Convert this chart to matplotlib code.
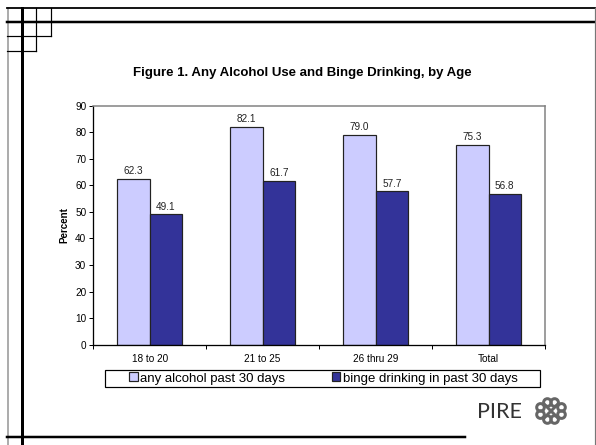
import matplotlib
matplotlib.use("Agg")
import matplotlib.pyplot as plt
from matplotlib.patches import Rectangle, Circle
import numpy as np

categories = ["18 to 20", "21 to 25", "26 thru 29", "Total"]
any_alcohol = [62.3, 82.1, 79.0, 75.3]
binge = [49.1, 61.7, 57.7, 56.8]
series_names = ["any alcohol past 30 days", "binge drinking in past 30 days"]

W, H = 596, 445
fig = plt.figure(figsize=(W / 100, H / 100), dpi=100)
plt.rcParams['font.family'] = ['Liberation Sans', 'DejaVu Sans']


def px(v):
    # pixels -> points
    return v * 0.72


# chart axes
ax = fig.add_axes([93.3 / W, 1 - 344.7 / H, 451.7 / W, 239 / H])
x = np.arange(len(categories))
bw = 0.288
b1 = ax.bar(x - bw / 2, any_alcohol, bw, color="#CCCCFF", edgecolor="#222222",
            linewidth=px(1.2), label=series_names[0])
b2 = ax.bar(x + bw / 2, binge, bw, color="#333399", edgecolor="#222222",
            linewidth=px(1.2), label=series_names[1])
for bars in (b1, b2):
    ax.bar_label(bars, fmt="%.1f", padding=2, fontsize=7.2, color="#222222")

ax.set_xlim(-0.5, len(categories) - 0.5)
ax.set_ylim(0, 90)
ax.set_yticks(range(0, 91, 10))
ax.set_xticks(x)
ax.set_xticklabels(categories)
ax.set_xticks(np.arange(-0.5, len(categories), 1), minor=True)
ax.tick_params(axis="x", which="major", length=0, pad=7, labelsize=7.2)
ax.tick_params(axis="x", which="minor", length=3, width=px(1), direction="out")
ax.tick_params(axis="y", length=3, width=px(1), pad=2, labelsize=7.2)
ax.set_ylabel("Percent", fontsize=7, fontweight="bold", labelpad=4)
for s in ("left", "bottom"):
    ax.spines[s].set_color("black")
    ax.spines[s].set_linewidth(px(1.3))
for s in ("top", "right"):
    ax.spines[s].set_color("#808080")
    ax.spines[s].set_linewidth(px(1.5))

fig.text(302 / W, 1 - 72.7 / H, "Figure 1. Any Alcohol Use and Binge Drinking, by Age",
         ha="center", va="center", fontsize=9.5, fontweight="bold")

# legend
fig.legend(handles=[b1, b2], labels=series_names, loc="center",
           bbox_to_anchor=(323.5 / W, 1 - 378.5 / H), ncol=2, frameon=False,
           fontsize=9.5, handlelength=0.65, handleheight=0.65,
           handletextpad=0.2, columnspacing=3.5, borderpad=0, borderaxespad=0)
fig.patches.append(Rectangle((105 / W, 1 - 386.5 / H), 435 / W, 16.5 / H,
                             transform=fig.transFigure, fill=False,
                             edgecolor="black", linewidth=px(1.2)))

# page decoration overlay in pixel coords
deco = fig.add_axes([0, 0, 1, 1], zorder=-1)
deco.set_xlim(0, W)
deco.set_ylim(H, 0)
deco.axis("off")
deco.plot([7.5, 7.5], [8, H], color="#999999", lw=px(1.6))
deco.plot([21.5, 21.5], [8, H], color="black", lw=px(3))
deco.plot([7, 594.5], [8, 8], color="black", lw=px(1.8))
deco.plot([7, 594.5], [21.7, 21.7], color="black", lw=px(2.5))
deco.plot([594.5, 594.5], [8, H], color="#777777", lw=px(1.2))
deco.plot([36, 36], [8, 51], color="black", lw=px(1.2))
deco.plot([51, 51], [8, 36], color="black", lw=px(1.2))
deco.plot([7, 51], [36, 36], color="black", lw=px(1.2))
deco.plot([7, 36], [51, 51], color="black", lw=px(1.2))
deco.plot([7, 465], [436.5, 436.5], color="black", lw=px(2.5))

# PIRE logo
deco.text(477, 412, "PIRE", fontsize=15.5, family=["Lato", "DejaVu Sans"],
          color="#333333", ha="left", va="center")
cx, cy = 551, 411
for dx, dy in [(0, -8.5), (0, 8.5), (-10.5, 0), (10.5, 0)]:
    if dx == 0:
        offs = [(-3.6, 0), (3.6, 0)]
    else:
        offs = [(0, -3.6), (0, 3.6)]
    for ox, oy in offs:
        deco.add_patch(Circle((cx + dx + ox, cy + dy + oy), 3.8, fill=False,
                              edgecolor="#666666", lw=px(3)))
deco.plot([cx - 6, cx + 6], [cy - 6, cy + 6], color="#666666", lw=px(3))
deco.plot([cx - 6, cx + 6], [cy + 6, cy - 6], color="#666666", lw=px(3))

fig.savefig("out.png", dpi=100)
